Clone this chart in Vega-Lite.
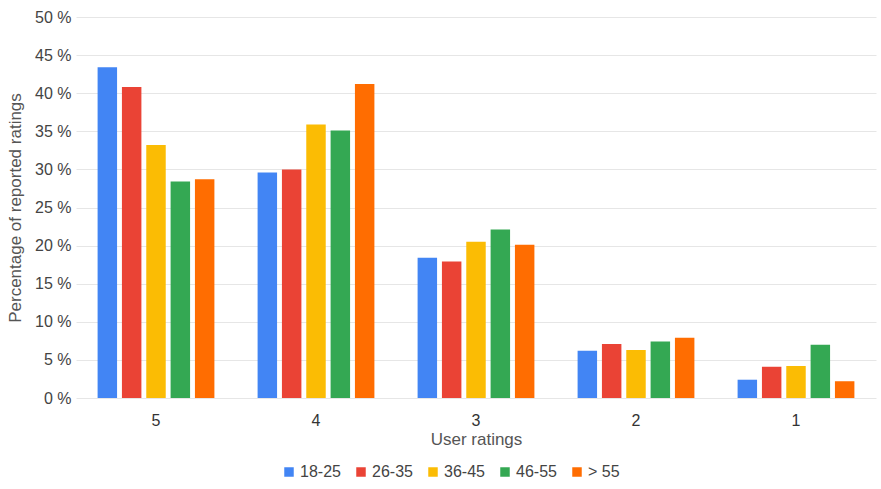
{
  "$schema": "https://vega.github.io/schema/vega-lite/v6.json",
  "autosize": "none",
  "width": 800,
  "height": 381,
  "padding": {"left": 76, "top": 17, "right": 5, "bottom": 91},
  "background": "white",
  "config": {
    "font": "Liberation Sans",
    "view": {"stroke": null},
    "axis": {"labelColor": "#444", "titleColor": "#555", "labelFontSize": 16, "titleFontSize": 17, "titleFontWeight": "normal"},
    "legend": {"labelColor": "#444", "labelFontSize": 16}
  },
  "data": {
    "values": [
      {"rating": "5", "age": "18-25", "pct": 43.4},
      {"rating": "5", "age": "26-35", "pct": 40.8},
      {"rating": "5", "age": "36-45", "pct": 33.2},
      {"rating": "5", "age": "46-55", "pct": 28.4},
      {"rating": "5", "age": "> 55", "pct": 28.7},
      {"rating": "4", "age": "18-25", "pct": 29.6},
      {"rating": "4", "age": "26-35", "pct": 30.0},
      {"rating": "4", "age": "36-45", "pct": 35.9},
      {"rating": "4", "age": "46-55", "pct": 35.1},
      {"rating": "4", "age": "> 55", "pct": 41.2},
      {"rating": "3", "age": "18-25", "pct": 18.4},
      {"rating": "3", "age": "26-35", "pct": 17.9},
      {"rating": "3", "age": "36-45", "pct": 20.5},
      {"rating": "3", "age": "46-55", "pct": 22.1},
      {"rating": "3", "age": "> 55", "pct": 20.1},
      {"rating": "2", "age": "18-25", "pct": 6.2},
      {"rating": "2", "age": "26-35", "pct": 7.1},
      {"rating": "2", "age": "36-45", "pct": 6.3},
      {"rating": "2", "age": "46-55", "pct": 7.4},
      {"rating": "2", "age": "> 55", "pct": 7.9},
      {"rating": "1", "age": "18-25", "pct": 2.4},
      {"rating": "1", "age": "26-35", "pct": 4.1},
      {"rating": "1", "age": "36-45", "pct": 4.2},
      {"rating": "1", "age": "46-55", "pct": 7.0},
      {"rating": "1", "age": "> 55", "pct": 2.2}
    ]
  },
  "mark": {"type": "bar"},
  "encoding": {
    "x": {
      "field": "rating", "type": "nominal", "sort": ["5", "4", "3", "2", "1"],
      "scale": {"paddingInner": 0.27, "paddingOuter": 0.135},
      "axis": {"title": "User ratings", "labelAngle": 0, "ticks": false, "domain": false, "labelPadding": 14, "titlePadding": 3, "labelColor": "#333"}
    },
    "xOffset": {"field": "age", "type": "nominal", "sort": ["18-25", "26-35", "36-45", "46-55", "> 55"], "scale": {"paddingInner": 0.2}},
    "y": {
      "field": "pct", "type": "quantitative",
      "scale": {"domain": [0, 50]},
      "axis": {"title": "Percentage of reported ratings", "values": [0, 5, 10, 15, 20, 25, 30, 35, 40, 45, 50], "labelExpr": "datum.value + ' %'", "ticks": false, "domain": false, "gridColor": "#e6e6e6", "labelPadding": 5, "titlePadding": 10}
    },
    "color": {
      "field": "age", "type": "nominal", "sort": ["18-25", "26-35", "36-45", "46-55", "> 55"],
      "scale": {"domain": ["18-25", "26-35", "36-45", "46-55", "> 55"], "range": ["#4285F4", "#EA4335", "#FBBC04", "#34A853", "#FF6D01"]},
      "legend": {"title": null, "orient": "none", "legendX": 205, "legendY": 447, "direction": "horizontal", "symbolType": "square", "symbolSize": 90, "symbolStrokeWidth": 0, "columnPadding": 12, "labelOffset": 3}
    }
  }
}
